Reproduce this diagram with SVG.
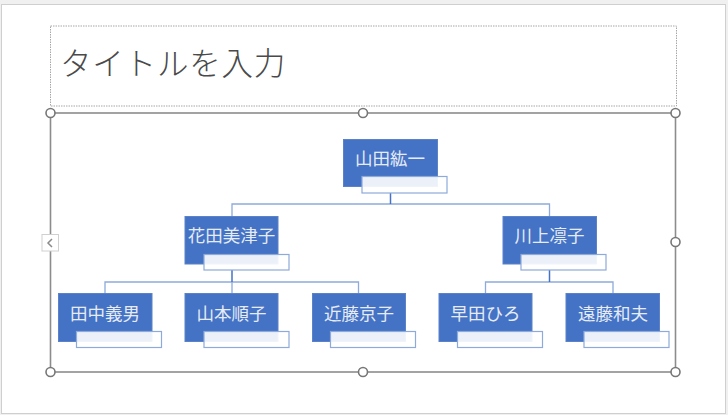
<svg xmlns="http://www.w3.org/2000/svg" width="728" height="415" viewBox="0 0 728 415">
<style>
.node{fill:#4472c4;stroke:#5b82c9;stroke-width:1}
.sub{fill:#ffffff;fill-opacity:0.9;stroke:#8eaadb;stroke-width:1.2}
.lbl{font-family:"Noto Sans CJK JP","Noto Sans CJK SC",sans-serif;font-size:17.5px;fill:#e6ecf7;text-anchor:middle;dominant-baseline:central}
.lnk{stroke:#8eaadb;stroke-width:1.3;fill:none}
.stem{stroke:#4472c4;stroke-width:1.5;fill:none}
.handle{fill:#ffffff;stroke:#777777;stroke-width:1.6}
</style>
<rect x="0" y="0" width="728" height="415" fill="#f0f0f0"/>
<rect x="1.5" y="4.5" width="724" height="409" fill="#ffffff" stroke="#cfcfcf" stroke-width="1"/>
<g id="title">
<rect x="50.5" y="26" width="626" height="80" fill="none" stroke="#a6a6a6" stroke-width="1" stroke-dasharray="1.5 1"/>
<text x="60" y="75" font-family="'Noto Sans CJK JP','Noto Sans CJK SC',sans-serif" font-size="31.5" font-weight="200" letter-spacing="0.8" fill="#4a4a4a">タイトルを入力</text>
</g>
<g id="selection-frame">
<rect x="50.5" y="113" width="625" height="259" fill="none" stroke="#8c8c8c" stroke-width="1.6"/>
<circle class="handle" cx="50.5" cy="113" r="4.5"/>
<circle class="handle" cx="363" cy="113" r="4.5"/>
<circle class="handle" cx="675.5" cy="113" r="4.5"/>
<circle class="handle" cx="675.5" cy="242" r="4.5"/>
<circle class="handle" cx="50.5" cy="372" r="4.5"/>
<circle class="handle" cx="363" cy="372" r="4.5"/>
<circle class="handle" cx="675.5" cy="372" r="4.5"/>
<rect x="42" y="234.5" width="16.5" height="16.5" fill="#ffffff" stroke="#d0d0d0" stroke-width="1"/>
<path d="M52 239 L48 243 L52 247" fill="none" stroke="#8a8a8a" stroke-width="1.5"/>
</g>
<g id="connectors">
<path class="lnk" d="M232 216 V204 H549.5 V216"/>
<path class="stem" d="M390.5 193 V204"/>
<path class="lnk" d="M105 293 V282 H358.5 V293 M232 282 V293"/>
<path class="stem" d="M232 270 V282"/>
<path class="lnk" d="M485.5 293 V282 H613 V293"/>
<path class="stem" d="M549.5 270 V282"/>
</g>
<g id="n1"><rect class="node" x="343.5" y="139.5" width="94" height="47"/><rect class="sub" x="362" y="176.5" width="85" height="16.5"/><text class="lbl" x="390" y="157">山田紘一</text></g>
<g id="n2"><rect class="node" x="185" y="216.5" width="93" height="47.5"/><rect class="sub" x="204" y="254.5" width="85" height="15.5"/><text class="lbl" x="231.5" y="234.5">花田美津子</text></g>
<g id="n3"><rect class="node" x="503" y="216.5" width="93.5" height="47.5"/><rect class="sub" x="521" y="254.5" width="85" height="15.5"/><text class="lbl" x="549.5" y="234.5">川上凛子</text></g>
<g id="n4"><rect class="node" x="58.5" y="293.5" width="93.5" height="48"/><rect class="sub" x="76.5" y="331.5" width="85" height="16"/><text class="lbl" x="105" y="312.5">田中義男</text></g>
<g id="n5"><rect class="node" x="185" y="293.5" width="93" height="48"/><rect class="sub" x="204" y="331.5" width="85" height="16"/><text class="lbl" x="231.5" y="312.5">山本順子</text></g>
<g id="n6"><rect class="node" x="312.5" y="293.5" width="93" height="48"/><rect class="sub" x="330.5" y="331.5" width="85" height="16"/><text class="lbl" x="359" y="312.5">近藤京子</text></g>
<g id="n7"><rect class="node" x="439" y="293.5" width="93" height="48"/><rect class="sub" x="457.5" y="331.5" width="85" height="16"/><text class="lbl" x="485.5" y="312.5">早田ひろ</text></g>
<g id="n8"><rect class="node" x="566" y="293.5" width="93.5" height="48"/><rect class="sub" x="584" y="331.5" width="85" height="16"/><text class="lbl" x="613" y="312.5">遠藤和夫</text></g>
</svg>
